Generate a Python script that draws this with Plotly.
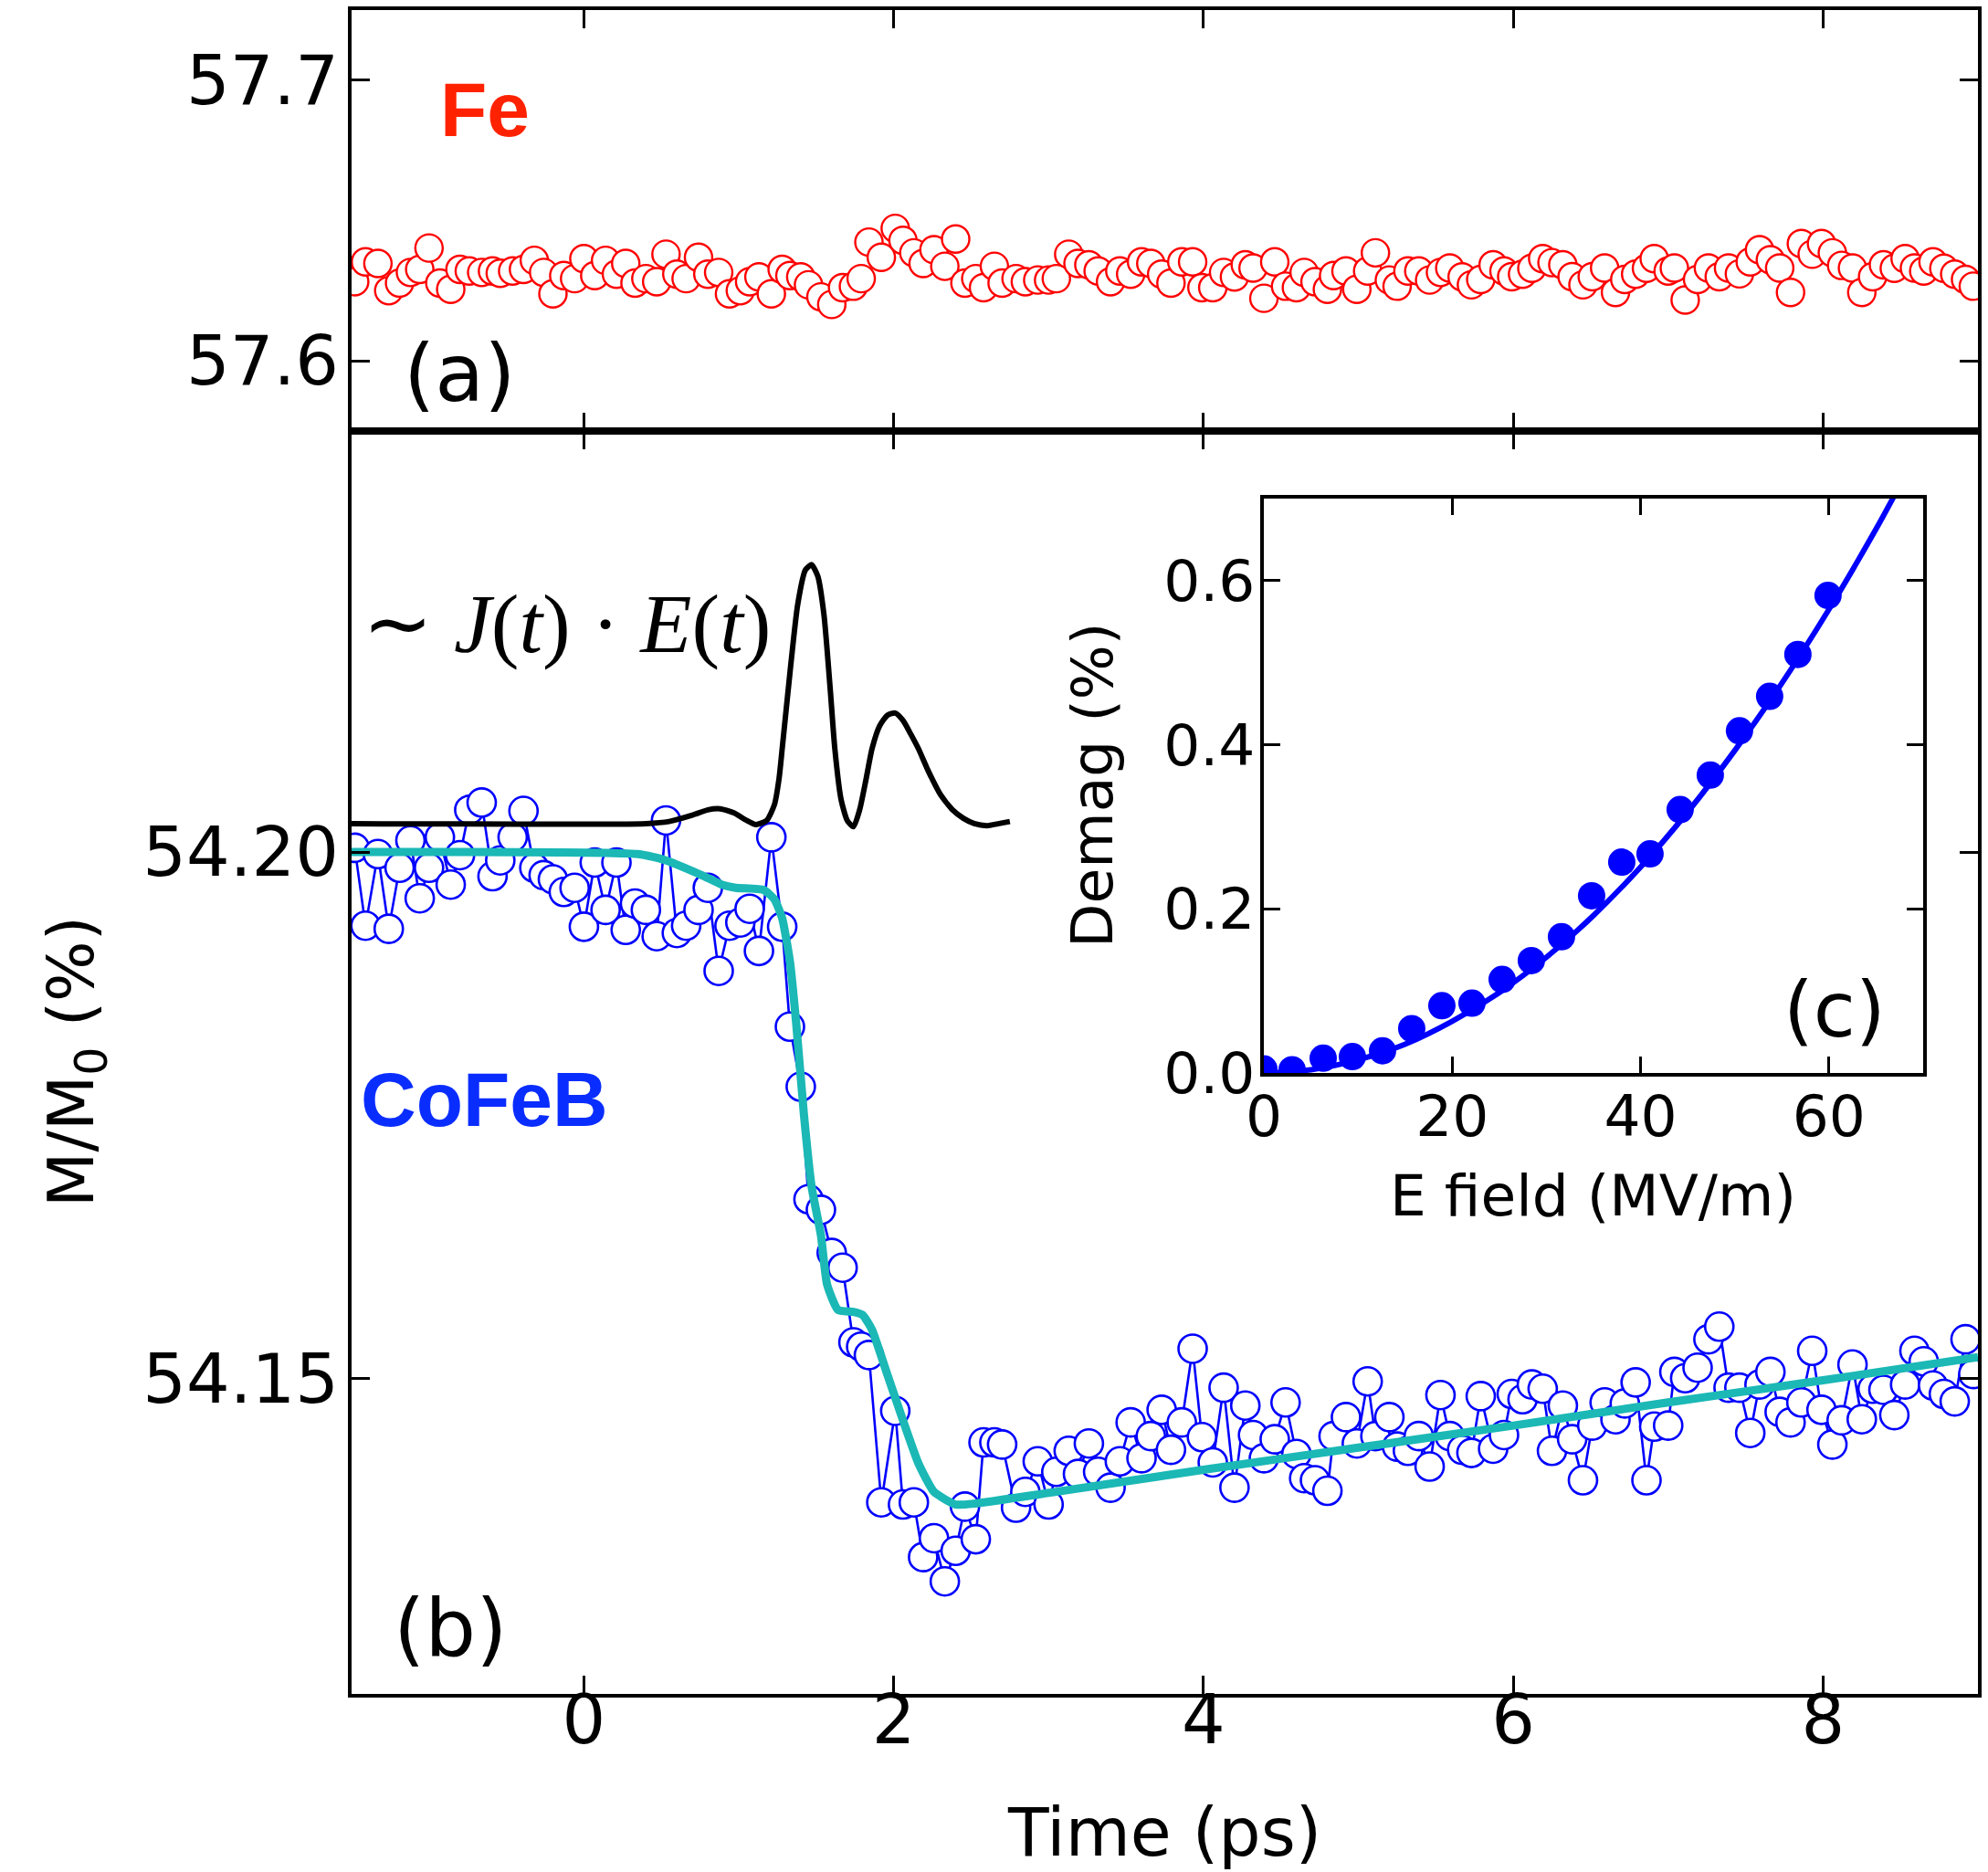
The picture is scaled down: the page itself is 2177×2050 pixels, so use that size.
import plotly.graph_objects as go

W, H = 2177, 2050

# ---- pump-probe delay grid (ps) shared by both element-resolved scans ----
delay_ps = [
    -1.48, -1.41, -1.33, -1.26, -1.19, -1.12, -1.06, -1.00, -0.93, -0.86,
    -0.80, -0.74, -0.66, -0.59, -0.54, -0.46, -0.39, -0.32, -0.26, -0.20,
    -0.13, -0.06, 0.00, 0.07, 0.14, 0.21, 0.27, 0.33, 0.40, 0.47,
    0.53, 0.60, 0.66, 0.74, 0.80, 0.87, 0.94, 1.01, 1.07, 1.13,
    1.21, 1.28, 1.33, 1.40, 1.45, 1.53, 1.60, 1.67, 1.74, 1.79,
    1.84, 1.92, 2.01, 2.06, 2.13, 2.19, 2.26, 2.33, 2.40, 2.46,
    2.53, 2.58, 2.65, 2.70, 2.79, 2.85, 2.93, 3.00, 3.05, 3.13,
    3.19, 3.26, 3.32, 3.40, 3.46, 3.53, 3.60, 3.66, 3.73, 3.79,
    3.86, 3.93, 3.99, 4.06, 4.13, 4.20, 4.27, 4.32, 4.39, 4.46,
    4.53, 4.60, 4.65, 4.72, 4.80, 4.84, 4.92, 4.99, 5.06, 5.11,
    5.20, 5.25, 5.32, 5.39, 5.46, 5.53, 5.59, 5.67, 5.73, 5.79,
    5.87, 5.94, 5.99, 6.06, 6.12, 6.19, 6.25, 6.32, 6.38, 6.45,
    6.51, 6.59, 6.66, 6.72, 6.79, 6.86, 6.91, 7.00, 7.04, 7.11,
    7.19, 7.26, 7.33, 7.39, 7.46, 7.53, 7.59, 7.66, 7.72, 7.79,
    7.86, 7.93, 7.99, 8.06, 8.12, 8.19, 8.25, 8.32, 8.39, 8.46,
    8.53, 8.59, 8.65, 8.71, 8.78, 8.85, 8.92, 8.97,
]

# Fe layer, M/M0 (%)
fe_m = [
    57.6282, 57.6353, 57.6347, 57.6250, 57.6277, 57.6315, 57.6326, 57.6402, 57.6277, 57.6255,
    57.6326, 57.6320, 57.6315, 57.6320, 57.6312, 57.6320, 57.6326, 57.6358, 57.6315, 57.6239,
    57.6304, 57.6293, 57.6364, 57.6304, 57.6358, 57.6309, 57.6347, 57.6277, 57.6293, 57.6282,
    57.6380, 57.6309, 57.6293, 57.6369, 57.6309, 57.6315, 57.6239, 57.6250, 57.6282, 57.6299,
    57.6239, 57.6326, 57.6304, 57.6299, 57.6271, 57.6228, 57.6201, 57.6261, 57.6266, 57.6293,
    57.6423, 57.6369, 57.6472, 57.6429, 57.6385, 57.6347, 57.6396, 57.6337, 57.6434, 57.6277,
    57.6293, 57.6261, 57.6337, 57.6277, 57.6293, 57.6282, 57.6288, 57.6288, 57.6293, 57.6380,
    57.6347, 57.6342, 57.6320, 57.6282, 57.6320, 57.6309, 57.6353, 57.6347, 57.6309, 57.6277,
    57.6353, 57.6353, 57.6261, 57.6261, 57.6315, 57.6299, 57.6342, 57.6331, 57.6223, 57.6353,
    57.6266, 57.6261, 57.6315, 57.6282, 57.6255, 57.6304, 57.6320, 57.6255, 57.6320, 57.6385,
    57.6288, 57.6266, 57.6320, 57.6320, 57.6288, 57.6315, 57.6331, 57.6299, 57.6271, 57.6290,
    57.6342, 57.6320, 57.6300, 57.6309, 57.6330, 57.6364, 57.6350, 57.6342, 57.6300, 57.6271,
    57.6300, 57.6331, 57.6244, 57.6290, 57.6309, 57.6330, 57.6364, 57.6320, 57.6331, 57.6217,
    57.6290, 57.6331, 57.6300, 57.6331, 57.6310, 57.6353, 57.6396, 57.6360, 57.6331, 57.6244,
    57.6418, 57.6380, 57.6418, 57.6385, 57.6340, 57.6331, 57.6244, 57.6300, 57.6342, 57.6330,
    57.6364, 57.6331, 57.6320, 57.6353, 57.6330, 57.6309, 57.6290, 57.6266,
]

# CoFeB layer, M/M0 (%)
cofeb_m = [
    54.2004, 54.1930, 54.1998, 54.1927, 54.1985, 54.2011, 54.1956, 54.1985, 54.2014, 54.1969,
    54.1997, 54.2040, 54.2047, 54.1977, 54.1992, 54.2014, 54.2039, 54.1985, 54.1978, 54.1974,
    54.1962, 54.1966, 54.1929, 54.1990, 54.1945, 54.1990, 54.1926, 54.1951, 54.1945, 54.1920,
    54.2030, 54.1923, 54.1930, 54.1945, 54.1966, 54.1887, 54.1930, 54.1933, 54.1946, 54.1906,
    54.2014, 54.1929, 54.1834, 54.1777, 54.1670, 54.1660, 54.1619, 54.1605, 54.1534, 54.1530,
    54.1522, 54.1382, 54.1469, 54.1380, 54.1382, 54.1330, 54.1348, 54.1307, 54.1336, 54.1378,
    54.1347, 54.1439, 54.1439, 54.1437, 54.1377, 54.1392, 54.1421, 54.1380, 54.1411, 54.1431,
    54.1409, 54.1438, 54.1411, 54.1396, 54.1421, 54.1458, 54.1424, 54.1445, 54.1470, 54.1432,
    54.1458, 54.1528, 54.1444, 54.1420, 54.1491, 54.1396, 54.1474, 54.1446, 54.1424, 54.1442,
    54.1477, 54.1428, 54.1405, 54.1403, 54.1393, 54.1445, 54.1463, 54.1438, 54.1497, 54.1445,
    54.1463, 54.1435, 54.1431, 54.1445, 54.1416, 54.1484, 54.1445, 54.1432, 54.1429, 54.1483,
    54.1433, 54.1446, 54.1485, 54.1480, 54.1494, 54.1490, 54.1431, 54.1474, 54.1442, 54.1403,
    54.1455, 54.1477, 54.1461, 54.1476, 54.1496, 54.1403, 54.1454, 54.1455, 54.1506, 54.1500,
    54.1510, 54.1537, 54.1549, 54.1491, 54.1491, 54.1448, 54.1494, 54.1506, 54.1468, 54.1458,
    54.1477, 54.1526, 54.1470, 54.1437, 54.1460, 54.1513, 54.1461, 54.1490, 54.1489, 54.1465,
    54.1494, 54.1526, 54.1516, 54.1493, 54.1485, 54.1478, 54.1537, 54.1504,
]

# model fit to the CoFeB trace
fit_t = [-1.50, 0.35, 0.53, 0.76, 0.89, 0.98, 1.16, 1.23, 1.28, 1.33, 1.37, 1.42,
         1.47, 1.53, 1.57, 1.64, 1.74, 1.80, 1.86, 1.96, 2.06, 2.16, 2.26, 2.40,
         2.53, 3.00, 4.00, 5.00, 6.00, 7.00, 8.00, 9.00]
fit_m = [54.2000, 54.1998, 54.1992, 54.1978, 54.1969, 54.1966, 54.1964, 54.1955,
         54.1937, 54.1896, 54.1838, 54.1751, 54.1682, 54.1636, 54.1589, 54.1565,
         54.1563, 54.1560, 54.1546, 54.1503, 54.1460, 54.1419, 54.1392, 54.1380,
         54.1381, 54.1391, 54.1413, 54.1434, 54.1455, 54.1477, 54.1498, 54.1520]

# driving term ~ J(t)·E(t), drawn on the CoFeB axis (arbitrary offset/scale)
je_t = [-1.50, 0.40, 0.55, 0.70, 0.80, 0.88, 0.97, 1.05, 1.11, 1.18, 1.23, 1.26,
        1.28, 1.33, 1.38, 1.43, 1.47, 1.51, 1.55, 1.59, 1.62, 1.66, 1.70, 1.74,
        1.78, 1.82, 1.86, 1.91, 1.96, 2.01, 2.06, 2.11, 2.16, 2.22, 2.30, 2.38,
        2.45, 2.52, 2.60, 2.68, 2.75]
je_m = [54.2027, 54.2027, 54.2029, 54.2035, 54.2040, 54.2041, 54.2037, 54.2030,
        54.2026, 54.2030, 54.2045, 54.2070, 54.2098, 54.2170, 54.2235, 54.2268,
        54.2273, 54.2262, 54.2225, 54.2155, 54.2098, 54.2050, 54.2030, 54.2024,
        54.2040, 54.2068, 54.2098, 54.2120, 54.2130, 54.2132, 54.2125, 54.2112,
        54.2098, 54.2078, 54.2055, 54.2040, 54.2032, 54.2027, 54.2025, 54.2027,
        54.2029]

# inset: demagnetization vs THz field
e_field = [0.0, 3.0, 6.3, 9.4, 12.6, 15.7, 18.9, 22.1, 25.3, 28.4,
           31.6, 34.8, 38.0, 41.0, 44.2, 47.4, 50.5, 53.7, 56.7, 59.9]
demag = [0.005, 0.004, 0.018, 0.020, 0.027, 0.054, 0.082, 0.085, 0.114, 0.137,
         0.166, 0.216, 0.257, 0.267, 0.321, 0.363, 0.417, 0.459, 0.510, 0.582]
e_fit = [0, 5, 10, 15, 20, 25, 30, 35, 40, 45, 50, 55, 60, 65, 67]
demag_fit = [0.0, 0.004, 0.016, 0.035, 0.063, 0.098, 0.141, 0.192, 0.251,
             0.318, 0.393, 0.475, 0.565, 0.663, 0.705]


def fx(px):
    return px / W


def fy(py):
    return 1 - py / H


# panel geometry (pixels)
MAIN_L, MAIN_R = 385, 2166
TOP_T, MID, BOT_B = 11, 472, 1855
IN_L, IN_R, IN_T, IN_B = 1384, 2106, 546, 1175

frame = dict(showline=True, linecolor="black", linewidth=4, mirror="ticks",
             ticks="inside", tickwidth=3, tickcolor="black", showgrid=False,
             zeroline=False, layer="above traces", automargin=False)
tick_main = dict(family="DejaVu Sans", size=75, color="black")
tick_in = dict(family="DejaVu Sans", size=63, color="black")

fig = go.Figure()

fig.add_trace(go.Scatter(
    x=delay_ps, y=fe_m, mode="markers", xaxis="x", yaxis="y",
    marker=dict(symbol="circle", size=30, color="white",
                line=dict(color="#FF0000", width=2.4)),
    hoverinfo="skip"))

fig.add_trace(go.Scatter(
    x=delay_ps, y=cofeb_m, mode="lines+markers", xaxis="x2", yaxis="y2",
    line=dict(color="#0000FF", width=2.6),
    marker=dict(symbol="circle", size=31, color="white",
                line=dict(color="#0000FF", width=2.6)),
    hoverinfo="skip"))

fig.add_trace(go.Scatter(
    x=fit_t, y=fit_m, mode="lines", xaxis="x2", yaxis="y2",
    line=dict(color="#1BB8B5", width=9, shape="spline", smoothing=0.5),
    hoverinfo="skip"))

fig.add_trace(go.Scatter(
    x=je_t, y=je_m, mode="lines", xaxis="x2", yaxis="y2",
    line=dict(color="black", width=6, shape="spline", smoothing=0.6),
    hoverinfo="skip"))

fig.add_trace(go.Scatter(
    x=e_fit, y=demag_fit, mode="lines", xaxis="x3", yaxis="y3",
    line=dict(color="#0000FF", width=6, shape="spline"), hoverinfo="skip"))

fig.add_trace(go.Scatter(
    x=e_field, y=demag, mode="markers", xaxis="x3", yaxis="y3",
    marker=dict(symbol="circle", size=30, color="#0000FF"), hoverinfo="skip"))

fig.update_layout(
    width=W, height=H, margin=dict(l=0, r=0, t=0, b=0, autoexpand=False),
    paper_bgcolor="white", plot_bgcolor="white", showlegend=False,
    font=dict(family="DejaVu Sans", color="black"),
    xaxis=dict(domain=[fx(MAIN_L), fx(MAIN_R)], range=[-1.5, 9], anchor="y",
               tickvals=[0, 2, 4, 6, 8], showticklabels=False, ticklen=20, **frame),
    yaxis=dict(domain=[fy(MID), fy(TOP_T)], range=[57.575, 57.725], anchor="x",
               tickvals=[57.6, 57.7], ticktext=["57.6", "57.7"], ticklen=20,
               tickfont=tick_main, ticklabelstandoff=-5, **frame),
    xaxis2=dict(domain=[fx(MAIN_L), fx(MAIN_R)], range=[-1.5, 9], anchor="y2",
                tickvals=[0, 2, 4, 6, 8], ticktext=["0", "2", "4", "6", "8"],
                ticklen=20, tickfont=tick_main, ticklabelstandoff=-40, **frame),
    yaxis2=dict(domain=[fy(BOT_B), fy(MID)], range=[54.12, 54.24], anchor="x2",
                tickvals=[54.15, 54.20], ticktext=["54.15", "54.20"], ticklen=20,
                tickfont=tick_main, ticklabelstandoff=-5, **frame),
    xaxis3=dict(domain=[fx(IN_L), fx(IN_R)], range=[0, 70], anchor="y3",
                tickvals=[0, 20, 40, 60], ticktext=["0", "20", "40", "60"],
                ticklen=18, tickfont=tick_in, ticklabelstandoff=-11, **frame),
    yaxis3=dict(domain=[fy(IN_B), fy(IN_T)], range=[0, 0.7], anchor="x3",
                tickvals=[0, 0.2, 0.4, 0.6], ticktext=["0.0", "0.2", "0.4", "0.6"],
                ticklen=18, tickfont=tick_in, ticklabelstandoff=-7, **frame),
)


def label(text, px, py, size, color="black", family="DejaVu Sans", angle=0):
    fig.add_annotation(text=text, x=fx(px), y=fy(py), xref="paper", yref="paper",
                       showarrow=False, xanchor="center", yanchor="middle",
                       textangle=angle,
                       font=dict(family=family, size=size, color=color))


label("Time (ps)", 1275, 2006, 73)
label("M/M<sub>0</sub> (%)", 83, 1163, 70, angle=-90)
label("E field (MV/m)", 1744, 1309, 63)
label("Demag (%)", 1197, 860, 63, angle=-90)
label("<b>Fe</b>", 531, 120, 84, color="#FF2200", family="Liberation Sans")
label("<b>CoFeB</b>", 530, 1204, 84, color="#0A2DFF", family="Liberation Sans")
label("(a)", 503, 409, 88)
label("(b)", 493, 1782, 88)
label("(c)", 2009, 1106, 84)
label("∼ <i>J</i>(<i>t</i>) · <i>E</i>(<i>t</i>)", 620, 683, 92,
      family="Liberation Serif")

fig.write_html("out.html")
